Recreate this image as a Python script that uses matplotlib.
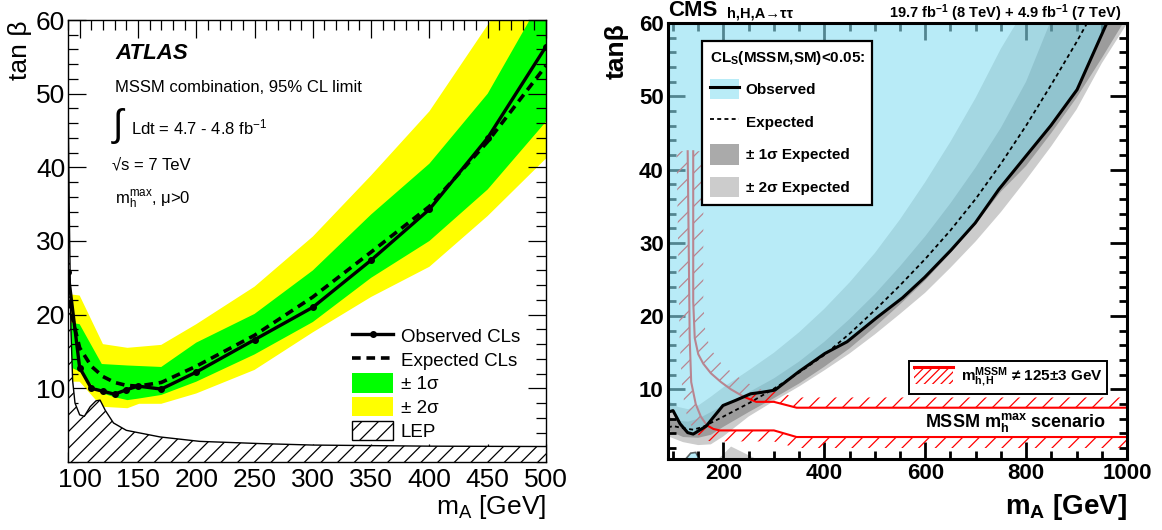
import numpy as np
import matplotlib
matplotlib.use('Agg')
import matplotlib.pyplot as plt
from matplotlib.patches import Polygon, Patch, Rectangle
from matplotlib.lines import Line2D
from matplotlib.ticker import MultipleLocator
from matplotlib.legend_handler import HandlerBase

plt.rcParams['font.family'] = ['Liberation Sans', 'DejaVu Sans']
plt.rcParams['mathtext.fontset'] = 'custom'
plt.rcParams['mathtext.rm'] = 'Liberation Sans'
plt.rcParams['mathtext.it'] = 'Liberation Sans:italic'
plt.rcParams['mathtext.bf'] = 'Liberation Sans:bold'
plt.rcParams['hatch.linewidth'] = 0.9

# ---------------- ATLAS (left) data ----------------
atlas_m_obs = [90, 100, 110, 120, 130, 140, 150, 170, 200, 250, 300, 350, 400, 450, 500]
atlas_tb_obs = [25.8, 12.8, 10.0, 9.6, 9.2, 9.8, 10.3, 9.9, 12.2, 16.6, 21.0, 27.4, 34.3, 44.0, 56.4]
atlas_m_exp = [90, 100, 110, 120, 130, 140, 150, 170, 200, 250, 300, 350, 400, 450, 500]
atlas_tb_exp = [22.0, 15.5, 13.0, 11.6, 10.8, 10.4, 10.3, 10.8, 13.0, 17.2, 22.4, 28.5, 34.7, 43.5, 53.8]
atlas_m_2s_up = [90, 100, 120, 141, 170, 200, 250, 300, 350, 400, 455, 500]
atlas_tb_2s_up = [22.8, 22.6, 16.0, 15.5, 15.9, 18.7, 23.8, 30.6, 38.9, 47.6, 60.5, 71.0]
atlas_m_2s_lo = [90, 100, 119, 141, 151, 170, 200, 250, 300, 350, 400, 450, 500]
atlas_tb_2s_lo = [10.9, 10.9, 7.5, 7.3, 7.9, 7.9, 9.3, 12.5, 17.6, 22.4, 26.5, 33.4, 41.2]
atlas_m_1s_up = [90, 100, 119, 141, 170, 200, 250, 300, 350, 400, 450, 486, 500]
atlas_tb_1s_up = [19.0, 18.7, 13.3, 13.1, 12.9, 16.2, 20.1, 26.0, 33.6, 40.5, 50.0, 60.0, 63.0]
atlas_m_1s_lo = [90, 100, 110, 120, 130, 141, 150, 170, 200, 250, 300, 350, 400, 450, 500]
atlas_tb_1s_lo = [13.0, 12.3, 10.5, 9.3, 8.8, 8.4, 8.6, 9.1, 10.9, 14.6, 19.0, 25.0, 30.0, 37.0, 46.2]
lep_m = [90, 91, 92.5, 94, 96, 100, 104, 109, 114, 117.5, 122, 129, 140, 169, 203, 255, 300, 400, 500]
lep_tb = [50, 35, 18, 11, 8.0, 6.4, 6.2, 7.5, 8.3, 8.4, 7.0, 5.3, 4.3, 3.4, 2.8, 2.5, 2.3, 2.15, 2.1]
atlas_xticks = [100, 150, 200, 250, 300, 350, 400, 450, 500]
atlas_yticks = [10, 20, 30, 40, 50, 60]

# ---------------- CMS (right) data ----------------
cms_m_obs = [90, 100, 114, 129, 140, 166, 180, 199, 224, 254, 276, 302, 349, 401, 445, 504, 555, 599, 651, 699, 746, 798, 849, 901, 962]
cms_tb_obs = [6.9, 7.1, 5.3, 4.1, 3.9, 5.0, 6.2, 7.8, 8.5, 9.4, 9.6, 9.9, 12.4, 14.9, 16.5, 19.8, 22.5, 25.3, 29.0, 32.7, 37.3, 41.7, 46.0, 50.9, 60.3]
cms_m_exp = [90, 100, 120, 140, 160, 180, 200, 225, 250, 275, 300, 350, 400, 450, 500, 550, 600, 650, 700, 750, 800, 850, 900, 925]
cms_tb_exp = [4.8, 5.0, 4.7, 4.5, 4.9, 5.6, 6.3, 7.2, 8.1, 9.1, 10.1, 12.3, 14.7, 17.6, 20.8, 24.2, 27.8, 31.7, 36.0, 40.8, 46.0, 51.6, 57.4, 60.5]
cms_m_2s_up = [90, 110, 130, 150, 175, 200, 250, 300, 350, 400, 450, 500, 550, 600, 650, 700, 750, 785]
cms_tb_2s_up = [8.5, 7.6, 7.3, 7.8, 9.0, 10.3, 12.6, 15.0, 17.8, 21.0, 24.6, 28.6, 33.2, 38.3, 43.8, 49.8, 56.5, 60.5]
cms_m_1s_up = [90, 110, 130, 150, 175, 200, 250, 300, 350, 400, 450, 500, 550, 600, 650, 700, 750, 800, 850]
cms_tb_1s_up = [6.3, 5.7, 5.6, 6.0, 6.9, 7.8, 9.6, 11.5, 13.8, 16.5, 19.6, 23.0, 26.8, 30.9, 35.4, 40.3, 45.7, 52.0, 60.5]
cms_m_1s_lo = [90, 120, 150, 175, 200, 250, 300, 350, 400, 450, 500, 550, 600, 650, 700, 750, 800, 850, 900, 950, 1010]
cms_tb_1s_lo = [4.4, 3.5, 3.4, 3.8, 4.9, 6.9, 8.8, 10.8, 13.1, 15.6, 18.5, 21.6, 24.9, 28.6, 32.6, 37.0, 40.5, 45.0, 49.8, 55.2, 62.0]
cms_m_2s_lo = [90, 120, 150, 175, 200, 250, 300, 350, 400, 450, 500, 550, 600, 650, 700, 750, 800, 850, 900, 950, 1010]
cms_tb_2s_lo = [3.6, 2.8, 2.4, 2.5, 3.6, 6.3, 8.4, 10.4, 12.6, 14.9, 17.5, 20.3, 23.2, 26.6, 30.2, 34.2, 38.6, 43.2, 48.2, 54.5, 61.0]
cms_island_obs_m = [125, 135, 145, 152]
cms_island_obs_tb = [0.5, 1.3, 1.4, 0.5]
cms_island_2s_m = [190, 215, 265]
cms_island_2s_tb = [0.5, 2.2, 0.5]
# m_h,H != 125 +- 3 GeV boundaries (line) and hatch outer edges
mh_lo_m = [129, 131, 133, 136, 145, 155, 167, 180, 193, 300, 345, 1000]
mh_lo_tb = [42.5, 30, 17, 11, 8.0, 6.3, 5.1, 4.6, 4.4, 4.4, 3.5, 3.5]
mh_lo_out_m = [107, 110, 113, 118, 125, 135, 150, 165, 180, 300, 345, 1000]
mh_lo_out_tb = [42.5, 30, 17, 10, 7.0, 5.2, 3.8, 3.0, 2.9, 2.9, 2.0, 2.0]
mh_hi_m = [140, 140, 143, 150, 160, 175, 195, 215, 240, 265, 300, 345, 1000]
mh_hi_tb = [42.5, 22, 17, 14.8, 13.5, 12.2, 11.0, 10.0, 9.0, 8.3, 8.3, 7.5, 7.5]
mh_hi_out_m = [160, 160, 163, 170, 180, 195, 215, 235, 260, 285, 300, 345, 1000]
mh_hi_out_tb = [42.5, 22, 18.5, 16.4, 15.0, 13.6, 12.4, 11.4, 10.4, 9.7, 9.7, 8.9, 8.9]
cms_xticks = [200, 400, 600, 800, 1000]
cms_yticks = [10, 20, 30, 40, 50, 60]

W, H = 1162, 530
fig = plt.figure(figsize=(W / 100, H / 100), dpi=100)


def px_axes(x0, y0, x1, y1):
    return [x0 / W, 1 - y1 / H, (x1 - x0) / W, (y1 - y0) / H]


def band_poly(m_up, tb_up, m_lo, tb_lo):
    xs = list(m_up) + list(m_lo)[::-1]
    ys = list(tb_up) + list(tb_lo)[::-1]
    return xs, ys

# ======================= LEFT PANEL =======================
L_XMIN, L_XMAX, L_YMIN, L_YMAX = 90, 500, 0, 60
axL = fig.add_axes(px_axes(68, 20, 546, 462))
axL.set_xlim(L_XMIN, L_XMAX)
axL.set_ylim(L_YMIN, L_YMAX)

xs, ys = band_poly(atlas_m_2s_up, atlas_tb_2s_up, atlas_m_2s_lo, atlas_tb_2s_lo)
axL.fill(xs, ys, color='#ffff00', lw=0, zorder=1)
xs, ys = band_poly(atlas_m_1s_up, atlas_tb_1s_up, atlas_m_1s_lo, atlas_tb_1s_lo)
axL.fill(xs, ys, color='#00ff00', lw=0, zorder=1.5)
axL.fill_between(lep_m, L_YMIN, lep_tb, facecolor='white', edgecolor='black',
                 hatch='//', lw=0, zorder=2)
axL.plot(lep_m, lep_tb, color='black', lw=1.0, zorder=2.5)
axL.plot(atlas_m_exp, atlas_tb_exp, color='black', lw=2.6, ls=(0, (2.4, 1.6)), zorder=3)
axL.plot(atlas_m_obs, atlas_tb_obs, color='black', lw=2.4, marker='o', ms=4, zorder=4)

axL.set_xticks(atlas_xticks)
axL.set_yticks(atlas_yticks)
axL.xaxis.set_minor_locator(MultipleLocator(10))
axL.yaxis.set_minor_locator(MultipleLocator(2))
axL.tick_params(which='both', direction='in', top=True, right=True, width=0.9,
                labelsize=19)
axL.tick_params(which='major', length=13)
axL.tick_params(which='minor', length=7)
axL.tick_params(axis='x', pad=4)
axL.tick_params(axis='y', pad=2)
for s in axL.spines.values():
    s.set_linewidth(1.0)

axL.text(0.1, 0.925, 'ATLAS', transform=axL.transAxes, fontsize=16,
         fontweight='bold', fontstyle='italic', va='center', ha='left')
fig.text(115 / W, 1 - 87 / H, 'MSSM combination, 95% CL limit', fontsize=12,
         va='center', ha='left')
fig.text(113 / W, 1 - 126 / H, '\u222b', fontsize=27, va='center', ha='left')
fig.text(131 / W, 1 - 127 / H, 'Ldt = 4.7 - 4.8 fb$^{\\mathregular{-1}}$', fontsize=12,
         va='center', ha='left')
fig.text(112 / W, 1 - 165 / H, '\u221as = 7 TeV', fontsize=12, va='center', ha='left')
fig.text(115 / W, 1 - 200 / H, 'm$_{\\mathregular{h}}^{\\mathregular{max}}$, \u03bc>0',
         fontsize=12, va='center', ha='left')
fig.text(20 / W, 1 - 20 / H, 'tan \u03b2', fontsize=19, rotation=90, va='top', ha='center')
fig.text(546 / W, 1 - 507 / H, 'm$_{\\mathregular{A}}$ [GeV]', fontsize=19,
         va='center', ha='right')

hL = [Line2D([], [], color='black', lw=2.4, marker='o', ms=4),
      Line2D([], [], color='black', lw=2.6, ls=(0, (2.4, 1.6))),
      Patch(facecolor='#00ff00', edgecolor='none'),
      Patch(facecolor='#ffff00', edgecolor='none'),
      Patch(facecolor='white', edgecolor='black', hatch='//', lw=1)]
labL = ['Observed CLs', 'Expected CLs', '\u00b1 1\u03c3', '\u00b1 2\u03c3', 'LEP']
legL = axL.legend(hL, labL, loc='upper left', bbox_to_anchor=(352 / W, 1 - 326 / H),
                  bbox_transform=fig.transFigure, frameon=False, fontsize=13.5,
                  handlelength=2.2, handleheight=1.2, labelspacing=0.2,
                  handletextpad=0.4, borderaxespad=0, borderpad=0)
legL.set_zorder(10)

# ======================= RIGHT PANEL =======================
R_XMIN, R_XMAX, R_YMIN, R_YMAX = 90, 1000, 0.5, 60
axR = fig.add_axes(px_axes(668, 23, 1127, 459))
axR.set_xlim(R_XMIN, R_XMAX)
axR.set_ylim(R_YMIN, R_YMAX)

top = R_YMAX + 8
right = R_XMAX + 30
# expected bands (grey)
xs, ys = band_poly(cms_m_2s_up + [right], cms_tb_2s_up + [top], cms_m_2s_lo, cms_tb_2s_lo)
axR.fill(xs, ys, color='#cccccc', lw=0, zorder=1)
axR.fill(cms_island_2s_m, cms_island_2s_tb, color='#cccccc', lw=0, zorder=1)
xs, ys = band_poly(cms_m_1s_up + [right], cms_tb_1s_up + [top], cms_m_1s_lo, cms_tb_1s_lo)
axR.fill(xs, ys, color='#9c9c9c', lw=0, zorder=1.2)

# m_h,H != 125 hatched regions
for lm, lt, om, ot in [(mh_lo_m, mh_lo_tb, mh_lo_out_m, mh_lo_out_tb),
                       (mh_hi_m, mh_hi_tb, mh_hi_out_m, mh_hi_out_tb)]:
    xs, ys = band_poly(lm, lt, om, ot)
    axR.fill(xs, ys, facecolor='none', edgecolor='#ff0000', hatch='//', lw=0, zorder=2)
    axR.plot(lm, lt, color='#ff0000', lw=1.5, zorder=2.2)

# observed excluded region (translucent light blue)
cyan_face = (138 / 255, 223 / 255, 242 / 255)
obs_xy = list(zip(cms_m_obs, cms_tb_obs)) + [(cms_m_obs[-1], top), (R_XMIN - 10, top),
                                             (R_XMIN - 10, cms_tb_obs[0])]
axR.add_patch(Polygon(obs_xy, closed=True, facecolor=cyan_face, alpha=0.6, lw=0, zorder=3))
axR.fill(cms_island_obs_m, cms_island_obs_tb, facecolor=cyan_face, alpha=0.6,
         edgecolor='black', lw=1.2, zorder=3)

axR.plot(cms_m_exp, cms_tb_exp, color='black', lw=1.3, ls=(0, (2.2, 1.8)), zorder=5)
axR.plot(cms_m_obs, cms_tb_obs, color='black', lw=2.2, zorder=6)

axR.set_xticks(cms_xticks)
axR.set_yticks(cms_yticks)
axR.xaxis.set_minor_locator(MultipleLocator(50))
axR.yaxis.set_minor_locator(MultipleLocator(2))
axR.tick_params(which='both', direction='in', top=True, right=True, width=2.0,
                labelsize=16)
axR.tick_params(which='major', length=12)
axR.tick_params(which='minor', length=6)
axR.tick_params(axis='x', pad=3)
axR.tick_params(axis='y', pad=3)
for lab in axR.get_xticklabels() + axR.get_yticklabels():
    lab.set_fontweight('bold')
for s in axR.spines.values():
    s.set_linewidth(2.2)
    s.set_zorder(20)

fig.text(668 / W, 1 - 11 / H, 'CMS', fontsize=16, fontweight='bold', va='center', ha='left')
fig.text(727 / W, 1 - 13 / H, 'h,H,A\u2192\u03c4\u03c4', fontsize=10.5, fontweight='bold',
         va='center', ha='left')
fig.text(1122 / W, 1 - 13 / H,
         '19.7 fb$^{\\mathbf{-1}}$ (8 TeV) + 4.9 fb$^{\\mathbf{-1}}$ (7 TeV)',
         fontsize=10.5, fontweight='bold', va='center', ha='right')
fig.text(617 / W, 1 - 23 / H, 'tan\u03b2', fontsize=19, fontweight='bold', rotation=90,
         va='top', ha='center')
fig.text(1127 / W, 1 - 507 / H, 'm$_{\\mathbf{A}}$ [GeV]', fontsize=20, fontweight='bold',
         va='center', ha='right')
fig.text(1106 / W, 1 - 423 / H, 'MSSM m$_{\\mathbf{h}}^{\\mathbf{max}}$ scenario', fontsize=13,
         fontweight='bold', va='center', ha='right', zorder=10)

hR = [(Patch(facecolor='#b9ecf7', edgecolor='none'), Line2D([], [], color='black', lw=2.2)),
      Line2D([], [], color='black', lw=1.3, ls=(0, (2.2, 1.8))),
      Patch(facecolor='#aaaaaa', edgecolor='none'),
      Patch(facecolor='#cccccc', edgecolor='none')]
labR = ['Observed', 'Expected', '\u00b1 1\u03c3 Expected', '\u00b1 2\u03c3 Expected']
legR = axR.legend(hR, labR, loc='upper left', bbox_to_anchor=(702 / W, 1 - 41 / H),
                  bbox_transform=fig.transFigure, frameon=True, fancybox=False,
                  framealpha=1, edgecolor='black', handlelength=1.9,
                  handleheight=1.65, labelspacing=0.82, handletextpad=0.45,
                  borderaxespad=0, borderpad=0.5, prop={'weight': 'bold', 'size': 11},
                  title='CL$_{\\mathbf{S}}$(MSSM,SM)<0.05:',
                  title_fontproperties={'weight': 'bold', 'size': 11})
legR.get_frame().set_linewidth(1.6)
legR._legend_box.align = 'left'
legR._legend_box.sep = 9
legR.set_zorder(15)
axR.add_artist(legR)


class HatchTopLine(HandlerBase):
    def create_artists(self, legend, orig_handle, xdescent, ydescent, width, height,
                       fontsize, trans):
        r = Rectangle((-xdescent, -ydescent), width, height, facecolor='white',
                      edgecolor='#ff0000', hatch='////', lw=0, transform=trans)
        ln = Line2D([-xdescent, -xdescent + width], [-ydescent + height, -ydescent + height],
                    color='#ff0000', lw=2.2, transform=trans)
        return [r, ln]


mh_handle = Patch(facecolor='white')
legR2 = axR.legend([mh_handle], ['m$_{\\mathbf{h,H}}^{\\mathbf{MSSM}}$ \u2260 125\u00b13 GeV'],
                   handler_map={Patch: HatchTopLine()}, loc='upper left',
                   bbox_to_anchor=(909 / W, 1 - 361 / H), bbox_transform=fig.transFigure,
                   frameon=True, fancybox=False, framealpha=1, edgecolor='black',
                   handlelength=2.6, handleheight=1.3, handletextpad=0.5,
                   borderaxespad=0, borderpad=0.3, prop={'weight': 'bold', 'size': 11})
legR2.get_frame().set_linewidth(1.4)
legR2.set_zorder(15)

fig.savefig('out.png', dpi=100)
